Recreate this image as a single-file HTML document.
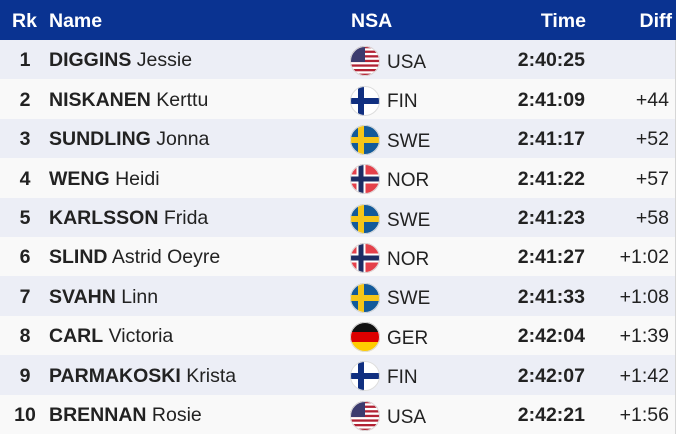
<!DOCTYPE html>
<html><head><meta charset="utf-8"><style>
*{margin:0;padding:0;box-sizing:border-box}
html,body{width:679px;height:434px;background:#fff;overflow:hidden;font-family:"Liberation Sans",Arial,sans-serif;color:#222}
.hdr{position:absolute;left:0;top:0;width:676px;height:40px;background:#0a3391;color:#fff;font-weight:bold;font-size:19.5px}
.hdr span{position:absolute;top:1.3px;line-height:40px;white-space:nowrap}
.row{position:absolute;left:0;width:676px;height:39.4px;border-right:1px solid #d6d6d6}
.odd{background:#eceef6}
.even{background:#f9f9f9}
.row span{position:absolute;top:1.4px;line-height:39.4px;font-size:19.5px;white-space:nowrap}
.rk{left:5px;width:40px;text-align:center;font-weight:bold}
.nm{left:49px}
.nm b{font-weight:bold}
.nsa{left:387px;top:3px!important;font-size:19px!important}
.tm{right:90px;font-weight:bold}
.df{right:6px}
.flag{position:absolute;left:350px;width:30px;height:30px}
</style></head><body>
<svg width="0" height="0" style="position:absolute">
<defs>
<clipPath id="c"><circle cx="15" cy="15" r="15"/></clipPath>
<g id="usa"><g clip-path="url(#c)"><rect width="30" height="30" fill="#fff"/>
<rect y="0" width="30" height="2.3" fill="#b22234"/><rect y="4.6" width="30" height="2.3" fill="#b22234"/><rect y="9.2" width="30" height="2.3" fill="#b22234"/><rect y="13.8" width="30" height="2.3" fill="#b22234"/><rect y="18.4" width="30" height="2.3" fill="#b22234"/><rect y="23" width="30" height="2.3" fill="#b22234"/><rect y="27.6" width="30" height="2.4" fill="#b22234"/>
<rect width="15" height="16" fill="#3c3b6e"/></g><circle cx="15" cy="15" r="14.5" fill="none" stroke="#ddd"/></g>
<g id="fin"><g clip-path="url(#c)"><rect width="30" height="30" fill="#fff"/><rect x="8" width="6" height="30" fill="#102f80"/><rect y="12" width="30" height="6" fill="#102f80"/></g><circle cx="15" cy="15" r="14.5" fill="none" stroke="#ddd"/></g>
<g id="swe"><g clip-path="url(#c)"><rect width="30" height="30" fill="#135a9a"/><rect x="8" width="6" height="30" fill="#f5c518"/><rect y="12" width="30" height="6" fill="#f5c518"/></g><circle cx="15" cy="15" r="14.5" fill="none" stroke="#ddd"/></g>
<g id="nor"><g clip-path="url(#c)"><rect width="30" height="30" fill="#e5404a"/><rect x="6.5" width="9" height="30" fill="#fff"/><rect y="10.5" width="30" height="9" fill="#fff"/><rect x="8.5" width="5" height="30" fill="#1d2c63"/><rect y="12.5" width="30" height="5" fill="#1d2c63"/></g><circle cx="15" cy="15" r="14.5" fill="none" stroke="#ddd"/></g>
<g id="ger"><g clip-path="url(#c)"><rect width="30" height="10" fill="#111"/><rect y="10" width="30" height="10" fill="#dd0000"/><rect y="20" width="30" height="10" fill="#ffcc00"/></g><circle cx="15" cy="15" r="14.5" fill="none" stroke="#ddd"/></g>
</defs></svg>

<div class="hdr">
<span style="left:12px">Rk</span>
<span style="left:49px">Name</span>
<span style="left:351px">NSA</span>
<span style="right:90px">Time</span>
<span style="right:4px">Diff</span>
</div>

<div class="row odd" style="top:40px"><span class="rk">1</span><span class="nm"><b>DIGGINS</b> Jessie</span><svg class="flag" style="top:6.2px" viewBox="0 0 30 30"><use href="#usa"/></svg><span class="nsa">USA</span><span class="tm">2:40:25</span><span class="df"></span></div>
<div class="row even" style="top:79.4px"><span class="rk">2</span><span class="nm"><b>NISKANEN</b> Kerttu</span><svg class="flag" style="top:6.2px" viewBox="0 0 30 30"><use href="#fin"/></svg><span class="nsa">FIN</span><span class="tm">2:41:09</span><span class="df">+44</span></div>
<div class="row odd" style="top:118.8px"><span class="rk">3</span><span class="nm"><b>SUNDLING</b> Jonna</span><svg class="flag" style="top:6.2px" viewBox="0 0 30 30"><use href="#swe"/></svg><span class="nsa">SWE</span><span class="tm">2:41:17</span><span class="df">+52</span></div>
<div class="row even" style="top:158.2px"><span class="rk">4</span><span class="nm"><b>WENG</b> Heidi</span><svg class="flag" style="top:6.2px" viewBox="0 0 30 30"><use href="#nor"/></svg><span class="nsa">NOR</span><span class="tm">2:41:22</span><span class="df">+57</span></div>
<div class="row odd" style="top:197.6px"><span class="rk">5</span><span class="nm"><b>KARLSSON</b> Frida</span><svg class="flag" style="top:6.2px" viewBox="0 0 30 30"><use href="#swe"/></svg><span class="nsa">SWE</span><span class="tm">2:41:23</span><span class="df">+58</span></div>
<div class="row even" style="top:237px"><span class="rk">6</span><span class="nm"><b>SLIND</b> Astrid Oeyre</span><svg class="flag" style="top:6.2px" viewBox="0 0 30 30"><use href="#nor"/></svg><span class="nsa">NOR</span><span class="tm">2:41:27</span><span class="df">+1:02</span></div>
<div class="row odd" style="top:276.4px"><span class="rk">7</span><span class="nm"><b>SVAHN</b> Linn</span><svg class="flag" style="top:6.2px" viewBox="0 0 30 30"><use href="#swe"/></svg><span class="nsa">SWE</span><span class="tm">2:41:33</span><span class="df">+1:08</span></div>
<div class="row even" style="top:315.8px"><span class="rk">8</span><span class="nm"><b>CARL</b> Victoria</span><svg class="flag" style="top:6.2px" viewBox="0 0 30 30"><use href="#ger"/></svg><span class="nsa">GER</span><span class="tm">2:42:04</span><span class="df">+1:39</span></div>
<div class="row odd" style="top:355.2px"><span class="rk">9</span><span class="nm"><b>PARMAKOSKI</b> Krista</span><svg class="flag" style="top:6.2px" viewBox="0 0 30 30"><use href="#fin"/></svg><span class="nsa">FIN</span><span class="tm">2:42:07</span><span class="df">+1:42</span></div>
<div class="row even" style="top:394.6px"><span class="rk">10</span><span class="nm"><b>BRENNAN</b> Rosie</span><svg class="flag" style="top:6.2px" viewBox="0 0 30 30"><use href="#usa"/></svg><span class="nsa">USA</span><span class="tm">2:42:21</span><span class="df">+1:56</span></div>
</body></html>
